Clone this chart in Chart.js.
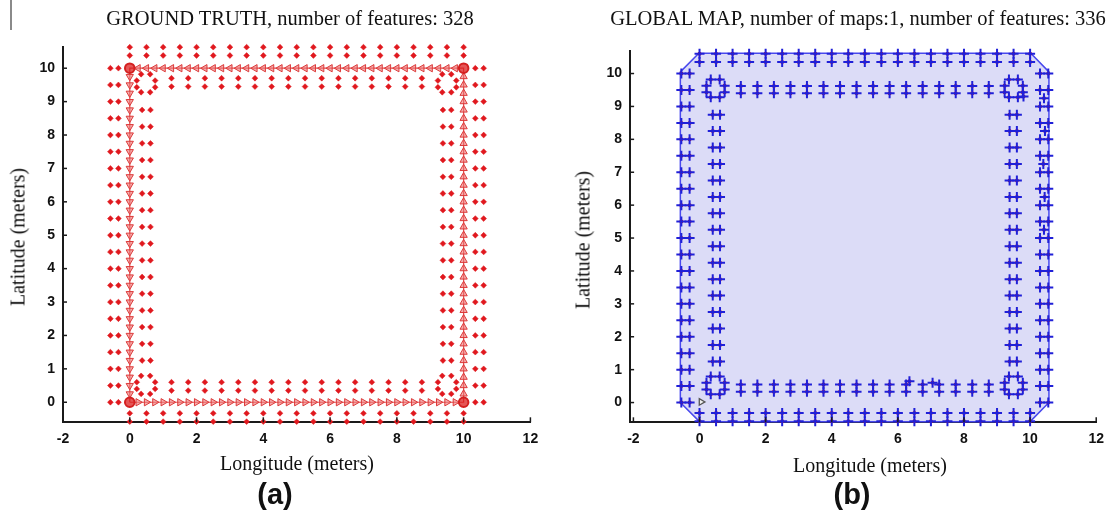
<!DOCTYPE html>
<html>
<head>
<meta charset="utf-8">
<script src="https://cdn.jsdelivr.net/npm/chart.js@4"></script>
<style>
  body { margin: 0; background: #fff; }
  #page { position: relative; width: 1112px; height: 514px; overflow: hidden; background: #fff; }
  canvas { position: absolute; top: 0; }
  .lbl { position: absolute; transform: translate(-50%, -50%); white-space: nowrap; color: #111; }
  .serif { font-family: "Liberation Serif", "Times New Roman", serif; font-size: 20px; }
  .ttl { font-size: 20.5px; }
  .tag { font-family: "Liberation Sans", Arial, sans-serif; font-weight: bold; font-size: 29px; }
</style>
</head>
<body>
<div id="page">
  <div style="position:absolute;left:10px;top:0;width:2px;height:30px;background:#8a8a8a"></div>
  <canvas id="gt" width="556" height="514" style="left:0"></canvas>
  <canvas id="map" width="556" height="514" style="left:556px"></canvas>
  <div class="lbl serif ttl" style="left:290px;top:18px">GROUND TRUTH, number of features: 328</div>
  <div class="lbl serif ttl" style="left:858px;top:18px">GLOBAL MAP, number of maps:1, number of features: 336</div>
  <div class="lbl serif" style="left:297px;top:463px">Longitude (meters)</div>
  <div class="lbl serif" style="left:870px;top:465px">Longitude (meters)</div>
  <div class="lbl serif" style="left:18px;top:237px;transform:translate(-50%,-50%) rotate(-90deg)">Latitude (meters)</div>
  <div class="lbl serif" style="left:583px;top:240px;transform:translate(-50%,-50%) rotate(-90deg)">Latitude (meters)</div>
  <div class="lbl tag" style="left:275px;top:494px">(a)</div>
  <div class="lbl tag" style="left:852px;top:494px">(b)</div>
</div>
<script>
// axis ticks
var TICKS_X = [-2, 0, 2, 4, 6, 8, 10, 12];
var TICKS_Y = [0, 1, 2, 3, 4, 5, 6, 7, 8, 9, 10];

// feature stations along the square
var SIDE_STEPS = [0, 0.5, 1, 1.5, 2, 2.5, 3, 3.5, 4, 4.5, 5, 5.5, 6, 6.5, 7, 7.5, 8, 8.5, 9, 9.5, 10];
var INNER_STEPS = [1.25, 1.75, 2.25, 2.75, 3.25, 3.75, 4.25, 4.75, 5.25, 5.75, 6.25, 6.75, 7.25, 7.75, 8.25, 8.75];
var PATH_STEPS = [0.25, 0.5, 0.75, 1, 1.25, 1.5, 1.75, 2, 2.25, 2.5, 2.75, 3, 3.25, 3.5, 3.75, 4, 4.25, 4.5, 4.75, 5,
  5.25, 5.5, 5.75, 6, 6.25, 6.5, 6.75, 7, 7.25, 7.5, 7.75, 8, 8.25, 8.5, 8.75, 9, 9.25, 9.5, 9.75];

// ground truth feature rows / columns
var gtOuterLeftX = [-0.58, -0.34];
var gtOuterRightX = [10.35, 10.6];
var gtOuterTopY = [10.38, 10.63];
var gtOuterBottomY = [-0.33, -0.58];
var gtInnerLeftX = [0.37, 0.62];
var gtInnerRightX = [9.38, 9.63];
var gtInnerTopY = [9.45, 9.7];
var gtInnerBottomY = [0.35, 0.6];

// rings of features at the inner corners
var ringCenterX = [0.48, 9.5, 9.5, 0.48];
var ringCenterY = [0.52, 0.52, 9.55, 9.55];
var ringDX = [-0.14, 0.13, -0.27, 0.28, -0.27, 0.28, -0.14, 0.13];
var ringDY = [0.27, 0.27, 0.08, 0.08, -0.12, -0.12, -0.27, -0.27];

// robot path corners
var pathX = [0, 10, 10, 0, 0];
var pathY = [0, 0, 10, 10, 0];

// estimated map features
var mapOuterLeftX = [-0.55, -0.3];
var mapOuterRightX = [10.3, 10.55];
var mapOuterTopY = [10.35, 10.6];
var mapOuterBottomY = [-0.32, -0.57];
var mapInnerLeftX = [0.4, 0.62];
var mapInnerRightX = [9.38, 9.6];
var mapInnerTopY = [9.4, 9.62];
var mapInnerBottomY = [0.33, 0.55];
var mapExtraX = [10.42, 10.45, 10.4, 10.44, 10.42, 9.8, 6.35, 7.05];
var mapExtraY = [9.25, 8.25, 7.25, 6.25, 5.25, 9.3, 0.65, 0.6];

// map hull
var hullX = [-0.58, 0, 10, 10.57, 10.57, 10.02, -0.02, -0.58, -0.58];
var hullY = [0, -0.58, -0.58, 0, 10.05, 10.62, 10.62, 10.05, 0];

var poseX = [0.05];
var poseY = [0.02];

function grid(xs, ys) {
  var pts = [];
  xs.forEach(function(x) { ys.forEach(function(y) { pts.push({x: x, y: y}); }); });
  return pts;
}
function rings() {
  var pts = [];
  ringCenterX.forEach(function(cx, i) {
    ringDX.forEach(function(dx, j) { pts.push({x: cx + dx, y: ringCenterY[i] + ringDY[j]}); });
  });
  return pts;
}
function zip(xs, ys) {
  return xs.map(function(x, i) { return {x: x, y: ys[i]}; });
}
function features(L, R, T, B, iL, iR, iT, iB) {
  return [].concat(
    grid(L, SIDE_STEPS), grid(R, SIDE_STEPS), grid(SIDE_STEPS, T), grid(SIDE_STEPS, B),
    grid(iL, INNER_STEPS), grid(iR, INNER_STEPS), grid(INNER_STEPS, iT), grid(INNER_STEPS, iB),
    rings());
}

var gtFeatures = features(gtOuterLeftX, gtOuterRightX, gtOuterTopY, gtOuterBottomY,
  gtInnerLeftX, gtInnerRightX, gtInnerTopY, gtInnerBottomY);
var mapFeatures = features(mapOuterLeftX, mapOuterRightX, mapOuterTopY, mapOuterBottomY,
  mapInnerLeftX, mapInnerRightX, mapInnerTopY, mapInnerBottomY).concat(zip(mapExtraX, mapExtraY));

var inwardTicks = {
  id: 'inwardTicks',
  afterDatasetsDraw: function(chart) {
    var ctx = chart.ctx, a = chart.chartArea, x = chart.scales.x, y = chart.scales.y;
    ctx.save();
    ctx.strokeStyle = '#1a1a1a';
    ctx.lineWidth = 1.5;
    x.ticks.forEach(function(t) {
      var px = x.getPixelForValue(t.value);
      ctx.beginPath(); ctx.moveTo(px, a.bottom); ctx.lineTo(px, a.bottom - 5); ctx.stroke();
    });
    y.ticks.forEach(function(t) {
      var py = y.getPixelForValue(t.value);
      ctx.beginPath(); ctx.moveTo(a.left, py); ctx.lineTo(a.left + 4, py); ctx.stroke();
    });
    ctx.restore();
  }
};

function axes(xMin, xMax, yMin, yMax) {
  var tickFont = {family: '"Liberation Sans", Arial, sans-serif', weight: 'bold', size: 14};
  return {
    x: {
      type: 'linear', min: xMin, max: xMax,
      afterBuildTicks: function(s) { s.ticks = TICKS_X.map(function(v) { return {value: v}; }); },
      afterFit: function(s) { s.height = 30; },
      grid: {drawOnChartArea: false, drawTicks: false},
      border: {color: '#1a1a1a', width: 2},
      ticks: {font: tickFont, color: '#111', padding: 8, maxRotation: 0, autoSkip: false}
    },
    y: {
      type: 'linear', min: yMin, max: yMax,
      afterBuildTicks: function(s) { s.ticks = TICKS_Y.map(function(v) { return {value: v}; }); },
      afterFit: function(s) { s.width = 45; },
      grid: {drawOnChartArea: false, drawTicks: false},
      border: {color: '#1a1a1a', width: 2},
      ticks: {font: tickFont, color: '#111', padding: 8, autoSkip: false}
    }
  };
}

var common = {
  responsive: false,
  animation: false,
  devicePixelRatio: 1,
  plugins: {legend: {display: false}, tooltip: {enabled: false}}
};

// (a) ground truth
var triStyle = {
  type: 'scatter', pointStyle: 'triangle', pointRadius: 4.2,
  backgroundColor: 'rgba(238,120,120,0.6)', borderColor: '#dc3a3a', borderWidth: 1, clip: false, order: 1
};
new Chart(document.getElementById('gt'), {
  type: 'scatter',
  data: {
    datasets: [
      {data: zip(pathX, pathY), showLine: true, borderColor: '#e24a4a', borderWidth: 1.2, pointRadius: 0, clip: false, order: 3},
      Object.assign({data: zip(PATH_STEPS, PATH_STEPS.map(function() { return 0; })), rotation: 90}, triStyle),
      Object.assign({data: zip(PATH_STEPS.map(function() { return 10; }), PATH_STEPS), rotation: 0}, triStyle),
      Object.assign({data: zip(PATH_STEPS, PATH_STEPS.map(function() { return 10; })), rotation: 270}, triStyle),
      Object.assign({data: zip(PATH_STEPS.map(function() { return 0; }), PATH_STEPS), rotation: 180}, triStyle),
      {data: zip(pathX.slice(0, 4), pathY.slice(0, 4)), pointStyle: 'circle', pointRadius: 4.8,
        backgroundColor: 'rgba(220,30,30,0.75)', borderColor: '#d42020', borderWidth: 2, clip: false, order: 0},
      {data: gtFeatures, pointStyle: 'rectRot', pointRadius: 2.9, backgroundColor: '#e0181e',
        borderColor: '#e0181e', borderWidth: 0.5, clip: false, order: 2}
    ]
  },
  options: Object.assign({
    layout: {padding: {left: 18, right: 25.6, top: 46.5, bottom: 61.7}},
    scales: axes(-2, 12, -0.6, 10.65)
  }, common),
  plugins: [inwardTicks]
});

// (b) global map
new Chart(document.getElementById('map'), {
  type: 'scatter',
  data: {
    datasets: [
      {data: zip(hullX, hullY), showLine: true, fill: 'shape', backgroundColor: '#dcdcf7',
        borderColor: '#4848ee', borderWidth: 1.5, pointRadius: 0, clip: false, order: 5},
      {data: mapFeatures, pointStyle: 'circle', pointRadius: 2, backgroundColor: '#d41010',
        borderWidth: 0, clip: false, order: 4},
      {data: mapFeatures, pointStyle: 'cross', pointRadius: 5, borderColor: '#2020d8',
        borderWidth: 2, clip: false, order: 3},
      {data: zip(poseX, poseY), pointStyle: 'triangle', rotation: 90, pointRadius: 3.8,
        backgroundColor: '#f0f0f0', borderColor: '#555', borderWidth: 1.3, clip: false, order: 2}
    ]
  },
  options: Object.assign({
    layout: {padding: {left: 29.1, right: 12.4, top: 50.5, bottom: 61.7}},
    scales: axes(-2.1, 12, -0.6, 10.7)
  }, common),
  plugins: [inwardTicks]
});
</script>
</body>
</html>
